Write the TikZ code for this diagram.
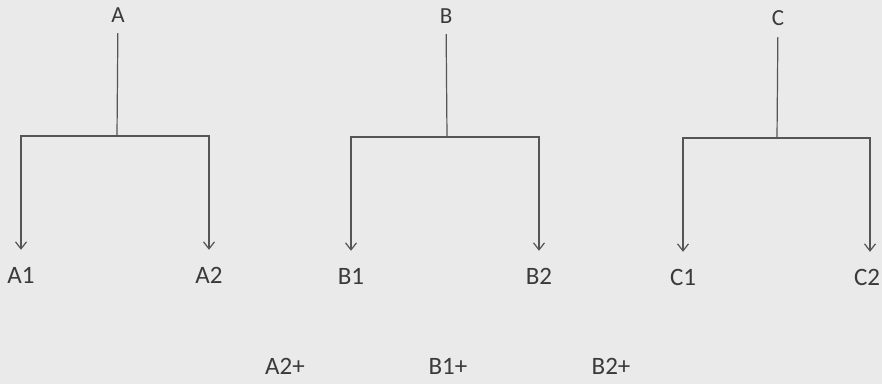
\documentclass[tikz,border=0pt]{standalone}
\usepackage{fontspec}
\setmainfont{Carlito}
\usetikzlibrary{arrows.meta}
\definecolor{paper}{HTML}{EAEAEA}
\definecolor{ink}{HTML}{3A3A3A}
\definecolor{wire}{HTML}{555555}
\begin{document}
\begin{tikzpicture}[x=1pt,y=1pt,
  lbl/.style={font=\fontsize{23}{23}\selectfont, text=ink, inner xsep=1pt, inner ysep=0pt, text height=14pt, text depth=0pt, anchor=base},
  leaf/.style={lbl, font=\fontsize{25}{25}\selectfont, text height=16pt},
  stem/.style={draw=wire, line width=1.2pt, shorten <=11pt},
  branch/.style={draw=wire, line width=1.2pt, -{Straight Barb[length=7pt,width=11pt,line width=1.2pt]}, shorten >=17pt}]
\fill[paper] (0,0) rectangle (882,384);
\useasboundingbox (0,0) rectangle (882,384);
% top nodes
\node[lbl] (A) at (118,362) {A};
\node[lbl] (B) at (446,361) {B};
\node[lbl] (C) at (778,359) {C};
% junctions
\coordinate (jA) at (117,248);
\coordinate (jB) at (447,247);
\coordinate (jC) at (777,246);
% leaves
\node[leaf] (A1) at (21,101) {A1};
\node[leaf] (A2) at (209,101) {A2};
\node[leaf] (B1) at (351,100) {B1};
\node[leaf] (B2) at (539,100) {B2};
\node[leaf] (C1) at (683,99) {C1};
\node[leaf] (C2) at (867,99) {C2};
% bottom labels
\node[leaf] (A2p) at (285,10) {A2+};
\node[leaf] (B1p) at (448,10) {B1+};
\node[leaf] (B2p) at (611,10) {B2+};
% connectors
\coordinate (c2top) at (870,0);
\draw[stem] (A) -- (jA);
\draw[stem] (B) -- (jB);
\draw[stem, shorten <=12pt] (C) -- (jC);
\draw[branch] (jA) -| (A1);
\draw[branch] (jA) -| (A2);
\draw[branch] (jB) -| (B1);
\draw[branch] (jB) -| (B2);
\draw[branch] (jC) -| (C1);
\draw[branch] (jC) -| (C2.north -| c2top);
\end{tikzpicture}
\end{document}
